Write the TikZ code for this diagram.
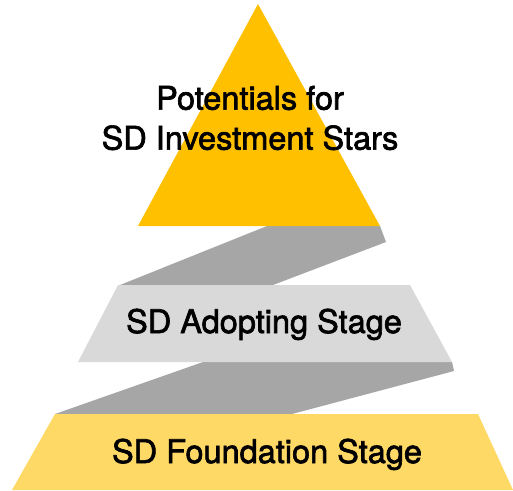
\documentclass[tikz,border=0pt]{standalone}
\usepackage{fontspec}
\setmainfont[FakeBold=2]{TeX Gyre Heros}
\definecolor{topgold}{HTML}{FFC000}
\definecolor{bandgray}{HTML}{A6A6A6}
\definecolor{midgray}{HTML}{D9D9D9}
\definecolor{baseyellow}{HTML}{FFD966}
\tikzset{
  stagetext/.style={font=\fontsize{32.5}{40}\selectfont, align=center, text=black, inner sep=0pt}
}
\begin{document}
\begin{tikzpicture}[x=1pt,y=-1pt]
\useasboundingbox (0,0) rectangle (513,490);
% bandes grises
\fill [bandgray] (267,226) -- (380,226) -- (386,242) -- (273,285) -- (120,285) -- cycle;
\fill [bandgray] (203,362) -- (452,362) -- (454,371) -- (292,414) -- (55,414) -- cycle;
% pyramide
\fill [topgold] (258,4) -- (380,226) -- (138,226) -- cycle;
\fill [midgray] (118,285) -- (410,285) -- (452,362) -- (78,362) -- cycle;
\fill [baseyellow] (55,414) -- (478,414) -- (513,490) -- (12,490) -- cycle;
% textes
\node [stagetext] (stars) at (250,118) {Potentials for\\SD Investment Stars};
\node [stagetext, anchor=base] (adopting) at (264,333) {SD Adopting Stage};
\node [stagetext, anchor=base] (foundation) at (267,463) {SD Foundation Stage};
\end{tikzpicture}
\end{document}
